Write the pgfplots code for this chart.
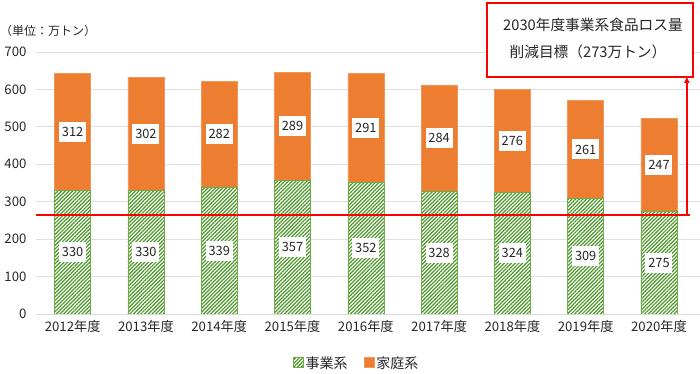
\documentclass[border=0pt]{standalone}
\usepackage{fontspec}
\setmainfont{Noto Sans CJK JP}
\usepackage{pgfplots}
\pgfplotsset{compat=1.18}
\usepackage{pgfplotstable}
\usetikzlibrary{patterns.meta,arrows.meta}
\definecolor{cOrange}{HTML}{ED7D31}
\definecolor{cGreen}{HTML}{70AD47}
\definecolor{cHatch}{HTML}{4A9628}
\definecolor{cText}{HTML}{262626}

\pgfplotstableread{
x biz home
0 330 312
1 330 302
2 339 282
3 357 289
4 352 291
5 328 284
6 324 276
7 309 261
8 275 247
}\data

\pgfplotsset{
  geom/.style={
    scale only axis, width=664pt, height=262pt,
    at={(36pt,60pt)}, anchor=south west,
    xmin=-0.5, xmax=8.56, ymin=0, ymax=700,
  }
}

\begin{document}
\begin{tikzpicture}
\begin{axis}[geom,
  ybar stacked, bar width=36pt,
  ytick={0,100,...,700},
  xtick=data,
  xticklabels={2012年度,2013年度,2014年度,2015年度,2016年度,2017年度,2018年度,2019年度,2020年度},
  ymajorgrids, grid style={black!12, line width=0.8pt},
  axis x line*=bottom, axis y line*=left,
  y axis line style={draw=none},
  x axis line style={black!15, line width=0.8pt},
  major tick length=0pt,
  tick label style={font=\fontsize{13.2}{15}\selectfont, text=cText},
  /pgf/number format/assume math mode=true,
  yticklabel style={xshift=-6pt},
  xticklabel style={yshift=-3pt},
  legend style={at={(0.483,-0.19)}, anchor=center, draw=none, legend columns=2,
    font=\fontsize{14}{16}\selectfont, text=cText,
    /tikz/every even column/.append style={column sep=14pt}},
  legend image code/.code={\draw[#1] (0pt,-4pt) rectangle (10pt,6pt);},
]
\addplot[fill=white, draw=cGreen, line width=0.6pt,
  postaction={pattern={Lines[angle=45,distance=2.6pt,line width=1.2pt]}, pattern color=cHatch}]
  table[x=x, y=biz]{\data};
\addlegendentry{事業系}
\addplot[fill=cOrange, draw=cOrange!80!white, line width=0.6pt]
  table[x=x, y=home]{\data};
\addlegendentry{家庭系}
\end{axis}
\begin{axis}[geom, hide axis, clip=false]
\addplot[draw=none, nodes near coords, point meta=explicit symbolic,
  nodes near coords style={anchor=center, fill=white, inner sep=0pt, minimum width=27pt, minimum height=20pt,
    font=\fontsize{12.8}{14}\selectfont, text=cText}]
  table[x=x, y expr=\thisrow{biz}/2, meta=biz]{\data};
\addplot[draw=none, nodes near coords, point meta=explicit symbolic,
  nodes near coords style={anchor=center, fill=white, inner sep=0pt, minimum width=27pt, minimum height=20pt,
    font=\fontsize{12.8}{14}\selectfont, text=cText}]
  table[x=x, y expr=\thisrow{biz}+\thisrow{home}/2, meta=home]{\data};
\draw[red, line width=1.5pt] (axis cs:-0.5,265) -- (axis cs:8.42,265);
\draw[red, line width=1.5pt, -{Latex[length=7pt,width=6pt]}] (axis cs:8.38,265) -- (axis cs:8.38,636);
\end{axis}
\draw[red, line width=2.5pt, fill=white] (487pt,297pt) rectangle (693pt,371pt);
\node[font=\fontsize{14.7}{16}\selectfont, text=cText] at (593pt,349pt) {2030年度事業系食品ロス量};
\node[font=\fontsize{14.7}{16}\selectfont, text=cText] at (588pt,322pt) {削減目標（273万トン）};
\node[anchor=west, inner sep=0pt, font=\fontsize{12}{14}\selectfont, text=cText] at (0pt,343pt) {（単位：万トン）};
\pgfresetboundingbox
\useasboundingbox (0pt,0pt) rectangle (700pt,374pt);
\end{tikzpicture}
\end{document}
